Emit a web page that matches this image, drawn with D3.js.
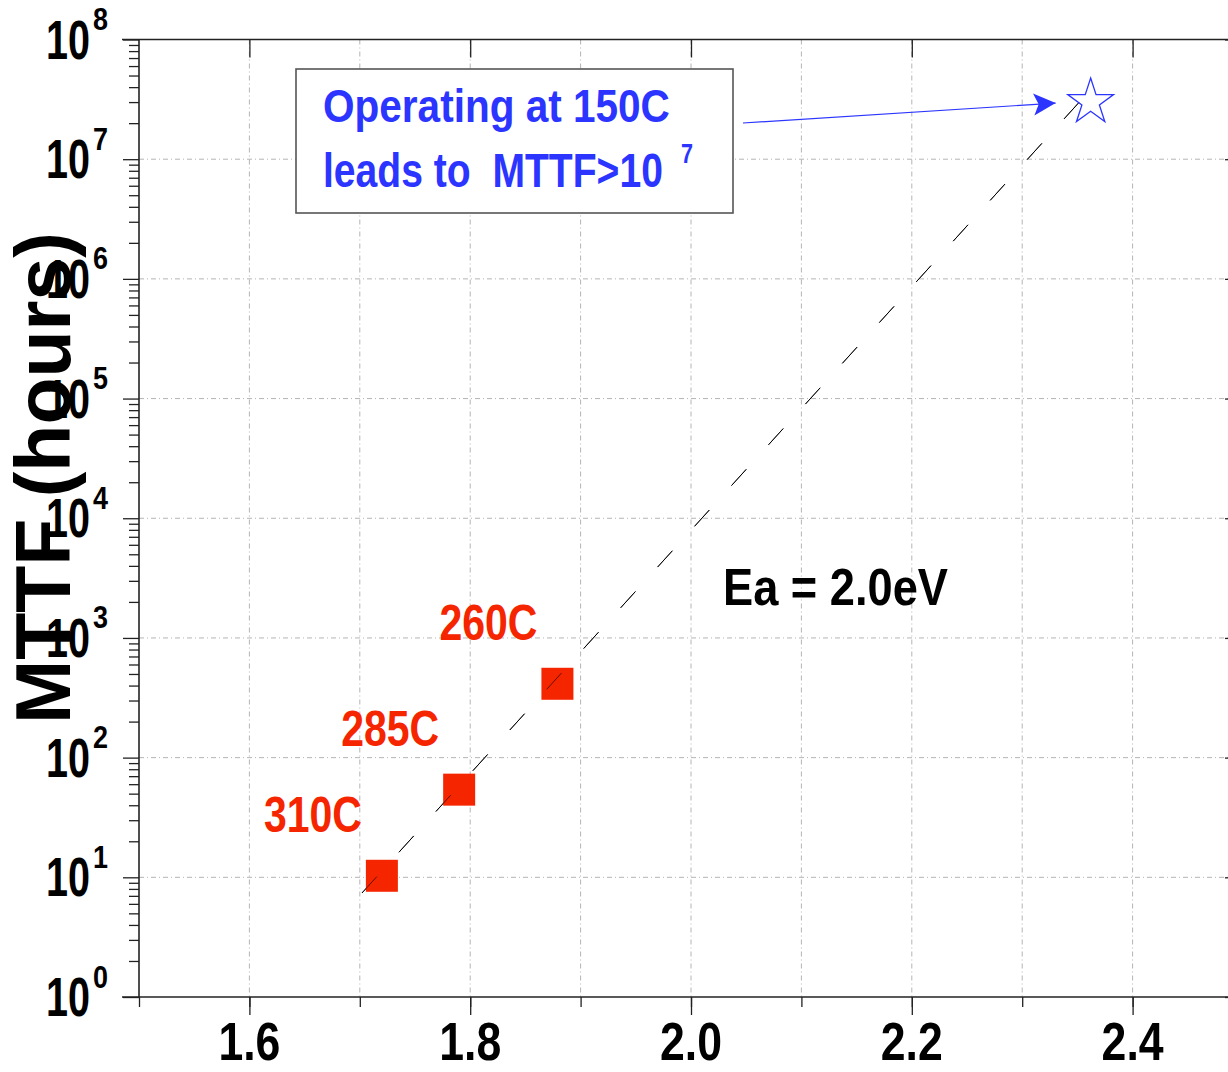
<!DOCTYPE html>
<html>
<head>
<meta charset="utf-8">
<script src="https://cdn.jsdelivr.net/npm/d3@7"></script>
<style>
body { margin: 0; background: #fff; overflow: hidden; }
text { font-family: "Liberation Sans", Arial, Helvetica, sans-serif; font-weight: bold; white-space: pre; }
</style>
</head>
<body>
<svg id="chart"></svg>
<script>
// stress points: x = 1000/T (1/K), y = MTTF (hours)
var temps = ["310C", "285C", "260C"];
var invT = [1.72, 1.79, 1.879];
var mttf = [10.3, 54, 414];

// extrapolated point at 150C
var opInvT = [2.362];
var opMttf = [3.0e7];

// Arrhenius fit, Ea = 2.0 eV (end points of the dashed line)
var fitInvT = [1.702, 2.37];
var fitMttf = [7.4, 4.6e7];

var xLabelTicks = [1.6, 1.8, 2.0, 2.2, 2.4];
var xGridTicks = [1.6, 1.7, 1.8, 1.9, 2.0, 2.1, 2.2, 2.3, 2.4, 2.5];
var yExponents = [0, 1, 2, 3, 4, 5, 6, 7, 8];

var W = 1228, H = 1072;
var svg = d3.select('#chart').attr('width', W).attr('height', H);

var x = d3.scaleLinear().domain([1.5, 2.5]).range([139, 1243]);
var y = d3.scaleLog().domain([1, 1e8]).range([997, 39.5]);

var yMajor = yExponents.map(function(e) { return Math.pow(10, e); });
var yMinor = [];
yExponents.slice(0, -1).forEach(function(e) {
  for (var m = 2; m < 10; m++) yMinor.push(m * Math.pow(10, e));
});
var xMinor = [1.5, 1.6, 1.7, 1.8, 1.9, 2.0, 2.1, 2.2, 2.3, 2.4, 2.5];

// squeeze a text horizontally so it fills a given width
function fitWidth(t, px, py, w) {
  var len = t.node().getComputedTextLength();
  t.attr('x', 0).attr('y', 0)
   .attr('transform', 'translate(' + px + ',' + py + ') scale(' + (w / len) + ',1)');
}

// grid
var grid = svg.append('g').attr('stroke', '#b4b4b4').attr('stroke-width', 1)
  .attr('stroke-dasharray', '5,3,1,3');
xGridTicks.forEach(function(v) {
  grid.append('line').attr('x1', x(v)).attr('x2', x(v)).attr('y1', y(1e8)).attr('y2', y(1));
});
yMajor.slice(1, -1).forEach(function(v) {
  grid.append('line').attr('x1', x(1.5)).attr('x2', x(2.5)).attr('y1', y(v)).attr('y2', y(v));
});

// axes
function styleAxis(g) {
  g.select('.domain').remove();
  g.selectAll('line').attr('stroke', '#222').attr('stroke-width', 1.3);
  g.selectAll('text').remove();
}
svg.append('g').attr('transform', 'translate(0,997)')
  .call(d3.axisBottom(x).tickValues(xMinor).tickSize(10).tickFormat('')).call(styleAxis);
svg.append('g').attr('transform', 'translate(0,997)')
  .call(d3.axisBottom(x).tickValues(xLabelTicks).tickSize(18).tickFormat('')).call(styleAxis);
svg.append('g').attr('transform', 'translate(0,39.5)')
  .call(d3.axisTop(x).tickValues(xLabelTicks).tickSize(-18).tickFormat('')).call(styleAxis);
svg.append('g').attr('transform', 'translate(139,0)')
  .call(d3.axisLeft(y).tickValues(yMinor).tickSize(10).tickFormat('')).call(styleAxis);
svg.append('g').attr('transform', 'translate(139,0)')
  .call(d3.axisLeft(y).tickValues(yMajor).tickSize(16).tickFormat('')).call(styleAxis);
svg.append('g').attr('transform', 'translate(1243,0)')
  .call(d3.axisRight(y).tickValues(yMajor).tickSize(-18).tickFormat('')).call(styleAxis);

// frame
var frame = svg.append('g').attr('stroke', '#222').attr('stroke-width', 1.6);
frame.append('line').attr('x1', 122).attr('x2', x(2.5)).attr('y1', y(1)).attr('y2', y(1));
frame.append('line').attr('x1', 122).attr('x2', x(2.5)).attr('y1', y(1e8)).attr('y2', y(1e8));
frame.append('line').attr('x1', x(1.5)).attr('x2', x(1.5)).attr('y1', y(1e8)).attr('y2', y(1));
frame.append('line').attr('x1', x(2.5)).attr('x2', x(2.5)).attr('y1', y(1e8)).attr('y2', y(1));

// x tick labels
xLabelTicks.forEach(function(v) {
  var t = svg.append('text').text(d3.format('.1f')(v))
    .attr('font-size', 54).attr('fill', '#000');
  fitWidth(t, x(v) - 31, 1060, 62);
});

// y tick labels 10^n
yExponents.forEach(function(e) {
  var yy = y(Math.pow(10, e));
  var t = svg.append('text').text('10').attr('font-size', 56).attr('fill', '#000');
  fitWidth(t, 46, yy + 19, 44);
  var s = svg.append('text').text(String(e)).attr('font-size', 32).attr('fill', '#000');
  fitWidth(s, 93, yy - 9.5, 15);
});

// y title
svg.append('text').text('MTTF (hours)')
  .attr('font-size', 77).attr('fill', '#000').attr('text-anchor', 'middle')
  .attr('transform', 'translate(70,478) rotate(-90)');

// fit line
svg.append('line')
  .attr('x1', x(fitInvT[0])).attr('y1', y(fitMttf[0]))
  .attr('x2', x(fitInvT[1])).attr('y2', y(fitMttf[1]))
  .attr('stroke', '#000').attr('stroke-width', 1)
  .attr('stroke-dasharray', '22,33');

// measured points
var sq = 32;
invT.forEach(function(v, i) {
  svg.append('rect')
    .attr('x', x(v) - sq / 2).attr('y', y(mttf[i]) - sq / 2)
    .attr('width', sq).attr('height', sq)
    .attr('fill', '#f52500');
});
// redraw the dash over the squares like the original
svg.append('line')
  .attr('x1', x(fitInvT[0])).attr('y1', y(fitMttf[0]))
  .attr('x2', x(fitInvT[1])).attr('y2', y(fitMttf[1]))
  .attr('stroke', '#000').attr('stroke-width', 1).attr('stroke-opacity', 0.6)
  .attr('stroke-dasharray', '22,33');

temps.forEach(function(tp, i) {
  var t = svg.append('text').text(tp).attr('font-size', 50).attr('fill', '#f52500');
  fitWidth(t, x(invT[i]) - 69 - 49, y(mttf[i]) - 44, 98);
});

// star at operating point
svg.append('path')
  .attr('d', d3.symbol(d3.symbolStar, 650)())
  .attr('transform', 'translate(' + x(opInvT[0]) + ',' + y(opMttf[0]) + ')')
  .attr('fill', 'none').attr('stroke', '#2b35ff').attr('stroke-width', 1.3);

// Ea label
var ea = svg.append('text').text('Ea = 2.0eV').attr('font-size', 52).attr('fill', '#000');
fitWidth(ea, 723, 605, 225);

// annotation box + arrow
var blue = '#2b35ff';
svg.append('defs').append('marker')
  .attr('id', 'head').attr('markerUnits', 'userSpaceOnUse')
  .attr('markerWidth', 24).attr('markerHeight', 24)
  .attr('viewBox', '0 -12 24 24').attr('refX', 22).attr('refY', 0)
  .attr('orient', 'auto')
  .append('path').attr('d', 'M0,-11 L22,0 L0,11 L5,0 Z').attr('fill', blue);

svg.append('rect').attr('x', 296).attr('y', 69).attr('width', 437).attr('height', 144)
  .attr('fill', '#fff').attr('stroke', '#555').attr('stroke-width', 1.6);

svg.append('line')
  .attr('x1', 743).attr('y1', 123)
  .attr('x2', x(opInvT[0]) - 35).attr('y2', y(opMttf[0]) + 1)
  .attr('stroke', blue).attr('stroke-width', 1.2)
  .attr('marker-end', 'url(#head)');

var l1 = svg.append('text').text('Operating at 150C').attr('font-size', 47).attr('fill', blue);
fitWidth(l1, 323, 122, 347);
var l2 = svg.append('text').text('leads to  MTTF>10').attr('font-size', 49).attr('fill', blue);
fitWidth(l2, 323, 187, 340);
var l3 = svg.append('text').text('7').attr('font-size', 28).attr('fill', blue);
fitWidth(l3, 681, 163, 12);
</script>
</body>
</html>
